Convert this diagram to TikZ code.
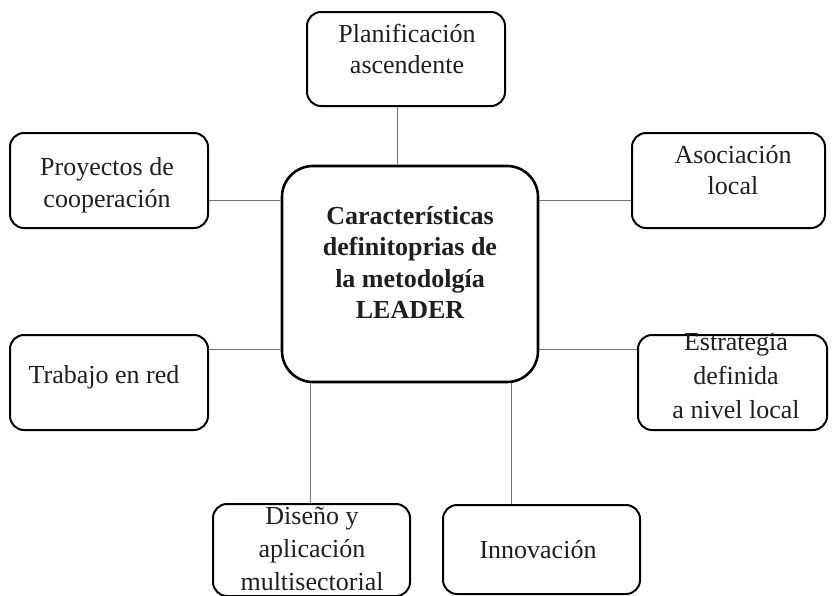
\documentclass[tikz,border=0pt]{standalone}
\usepackage{fontspec}
\setmainfont{Liberation Serif}
\begin{document}
\begin{tikzpicture}[x=1pt,y=-1pt,
  box/.style={draw=black, line width=2pt, rounded corners=14pt, inner sep=0pt, fill=white},
  bigbox/.style={draw=black, line width=2.6pt, rounded corners=31pt, inner sep=0pt, fill=white},
  lbl/.style={align=center, inner sep=0pt, text=black!88, font=\fontsize{26}{31.5}\selectfont},
  blbl/.style={align=center, inner sep=0pt, text=black!88, font=\fontsize{26}{31.5}\selectfont\bfseries},
  conn/.style={draw=black!55, line width=1pt}]
\useasboundingbox (0,0) rectangle (832,595);
% boxes
\node[box, minimum width=198pt, minimum height=94pt] (top) at (406,59) {};
\node[box, minimum width=198pt, minimum height=95pt] (proy) at (109,180.5) {};
\node[box, minimum width=193pt, minimum height=95pt] (asoc) at (728.5,180.5) {};
\node[box, minimum width=198pt, minimum height=95pt] (trab) at (109,382.5) {};
\node[box, minimum width=189pt, minimum height=95pt] (estr) at (732.5,382.5) {};
\node[box, minimum width=197pt, minimum height=92pt] (dise) at (311.5,550) {};
\node[box, minimum width=197pt, minimum height=89pt] (inno) at (541.5,549.5) {};
\node[bigbox, minimum width=256pt, minimum height=216pt] (ctr) at (410,274) {};
% connectors
\draw[conn] ([xshift=-9pt]top.south) -- ([xshift=-9pt]top.south |- ctr.north);
\draw[conn] ([yshift=-19.5pt]proy.east) -- ([yshift=-19.5pt]proy.east -| ctr.west);
\draw[conn] ([yshift=33.5pt]trab.east) -- ([yshift=33.5pt]trab.east -| ctr.west);
\draw[conn] ([yshift=-19.5pt]asoc.west) -- ([yshift=-19.5pt]asoc.west -| ctr.east);
\draw[conn] ([yshift=33.5pt]estr.west) -- ([yshift=33.5pt]estr.west -| ctr.east);
\draw[conn] ([xshift=-1.5pt]dise.north) -- ([xshift=-1.5pt]dise.north |- ctr.south);
\draw[conn] ([xshift=-30.5pt]inno.north) -- ([xshift=-30.5pt]inno.north |- ctr.south);
% texts
\node[lbl] (ttop) at (407,49) {Planificación\\ascendente};
\node[lbl] (tproy) at (107,185) {Proyectos de\\cooperación};
\node[lbl] (ttrab) at (104,377) {Trabajo en red};
\node[lbl] (tasoc) at (733,170) {Asociación\\local};
\node[lbl, font=\fontsize{26}{34}\selectfont] (testr) at (736,376) {Estrategia\\definida\\a nivel local};
\node[lbl, font=\fontsize{26}{33}\selectfont] (tdise) at (312,549) {Diseño y\\aplicación\\multisectorial};
\node[lbl] (tinno) at (538,550) {Innovación};
\node[blbl] (tctr) at (410,262.5) {Características\\definitoprias de\\la metodolgía\\LEADER};
\end{tikzpicture}
\end{document}
